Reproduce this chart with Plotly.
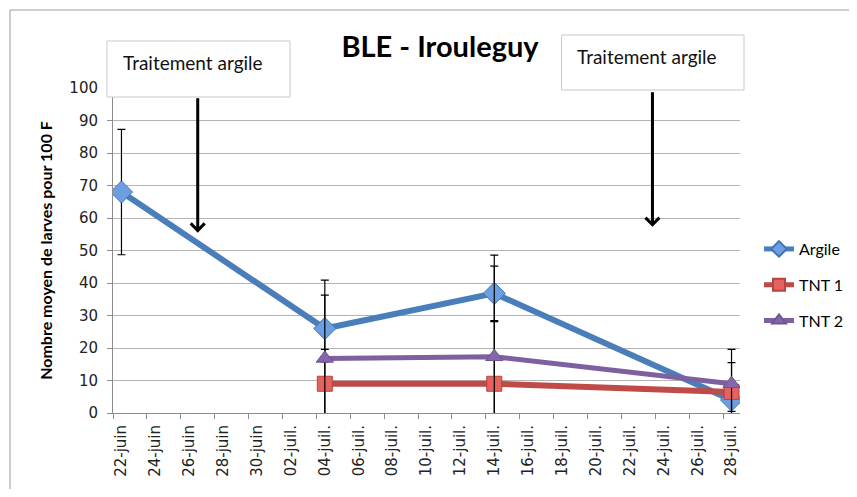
"""
BLE - Irouleguy: nombre moyen de larves pour 100 F (Argile vs témoins)
"""
import plotly.graph_objects as go

# dates (axe date Excel, pas de 1 jour)
argile_dates = ["2013-06-22", "2013-07-04", "2013-07-14", "2013-07-28"]
argile_vals = [68, 26, 36.8, 4]
argile_err = [19.3, 10.3, 8.4, 3.5]

tnt_dates = ["2013-07-04", "2013-07-14", "2013-07-28"]
tnt1_vals = [9, 9, 6.5]
tnt1_err = [10.6, 19.1, 9]
tnt2_vals = [16.8, 17.3, 9]
tnt2_err = [24.1, 31.3, 10.6]

tick_dates = ["2013-06-22", "2013-06-24", "2013-06-26", "2013-06-28", "2013-06-30",
              "2013-07-02", "2013-07-04", "2013-07-06", "2013-07-08", "2013-07-10",
              "2013-07-12", "2013-07-14", "2013-07-16", "2013-07-18", "2013-07-20",
              "2013-07-22", "2013-07-24", "2013-07-26", "2013-07-28"]
tick_labels = ["22-juin", "24-juin", "26-juin", "28-juin", "30-juin",
               "02-juil.", "04-juil.", "06-juil.", "08-juil.", "10-juil.",
               "12-juil.", "14-juil.", "16-juil.", "18-juil.", "20-juil.",
               "22-juil.", "24-juil.", "26-juil.", "28-juil."]

# dates des traitements argile (flèches)
traitement_dates = ["2013-06-26 12:00", "2013-07-23 08:00"]
traitement_y = [55.5, 57.3]

TXT = "Lato, 'Open Sans', sans-serif"
TICK = "'DejaVu Sans', sans-serif"


def err(vals):
    return dict(type="data", array=vals, visible=True, color="black",
                thickness=1.2, width=4)


fig = go.Figure()
fig.add_trace(go.Scatter(
    x=argile_dates, y=argile_vals, name="Argile", mode="lines+markers",
    line=dict(color="#4a7ebb", width=6),
    marker=dict(symbol="diamond", size=17, color="#6d9ee0",
                line=dict(color="#3f73b4", width=1)),
    error_y=err(argile_err), legendgroup="a",
))
fig.add_trace(go.Scatter(
    x=tnt_dates, y=tnt1_vals, name="TNT 1", mode="lines+markers",
    line=dict(color="#be4b48", width=6),
    marker=dict(symbol="square", size=15, color="#e5625f",
                line=dict(color="#b54441", width=1)),
    error_y=err(tnt1_err), legendgroup="b",
))
fig.add_trace(go.Scatter(
    x=tnt_dates, y=tnt2_vals, name="TNT 2", mode="lines+markers",
    line=dict(color="#7d60a0", width=5),
    marker=dict(symbol="triangle-up", size=15, color="#8566ab",
                line=dict(color="#6f5590", width=1)),
    error_y=err(tnt2_err), legendgroup="c",
))

fig.update_xaxes(
    type="date",
    range=["2013-06-21 12:00", "2013-07-28 12:00"],
    tickvals=tick_dates, ticktext=tick_labels, tickangle=-90,
    ticks="", showgrid=False, ticklabelstandoff=5,
    tickfont=dict(family=TICK, size=15, color="#222"),
    showline=True, linecolor="#8c8c8c", linewidth=1,
    minor=dict(ticks="outside", tick0="2013-06-21 12:00", dtick=2 * 86400000,
               ticklen=5, tickcolor="#8c8c8c", showgrid=False),
)
fig.update_yaxes(
    range=[0, 100], dtick=10, showgrid=True, gridcolor="#b4b4b4", gridwidth=1,
    zeroline=False, showline=True, linecolor="#8c8c8c", linewidth=1,
    ticks="outside", ticklen=5, tickcolor="#8c8c8c", ticklabelstandoff=6,
    tickfont=dict(family=TICK, size=15, color="#222"),
    title=dict(text="<b>Nombre moyen de larves pour 100 F</b>", standoff=12,
               font=dict(family=TXT, size=16, color="black")),
)

# boîtes "Traitement argile" + flèches
boxes = [(-0.0096, 0.2823, 0.9723, 1.1446), (0.7155, 1.0064, 0.9938, 1.1631)]
for (x0, x1, y0, y1), xd, yd in zip(boxes, traitement_dates, traitement_y):
    fig.add_shape(type="rect", xref="paper", yref="paper", x0=x0, x1=x1, y0=y0, y1=y1,
                  fillcolor="white", line=dict(color="#c8c8c8", width=1), layer="above")
    fig.add_annotation(xref="paper", yref="paper", x=x0 + 0.022, y=y1 - 0.065,
                       xanchor="left", yanchor="middle", showarrow=False,
                       text="Traitement argile",
                       font=dict(family=TXT, size=19, color="#111"))
    fig.add_annotation(x=xd, y=yd, ax=0, ay=-136, showarrow=True,
                       arrowhead=4, arrowsize=0.9, arrowwidth=3,
                       arrowcolor="black", standoff=0, text="")

# cadre du graphique
fig.add_shape(type="rect", xref="paper", yref="paper", x0=-0.1643, x1=2, y0=-2, y1=1.24,
              line=dict(color="#9a9a9a", width=1), layer="below")

# la page ajoute 8 px de marge autour de la figure
fig.update_layout(
    width=841, height=481,
    title=dict(text="<b>BLE - Irouleguy</b>", x=0.5137, y=0.919, xanchor="center",
               yanchor="middle", font=dict(family=TXT, size=29, color="black")),
    margin=dict(l=105, r=109, t=80, b=76),
    plot_bgcolor="white", paper_bgcolor="white",
    legend=dict(xref="container", yref="container", x=1.0, y=0.4241,
                xanchor="right", yanchor="middle",
                itemsizing="constant", tracegroupgap=12,
                font=dict(family=TXT, size=16, color="black")),
    showlegend=True,
)

fig.write_html("out.html")
